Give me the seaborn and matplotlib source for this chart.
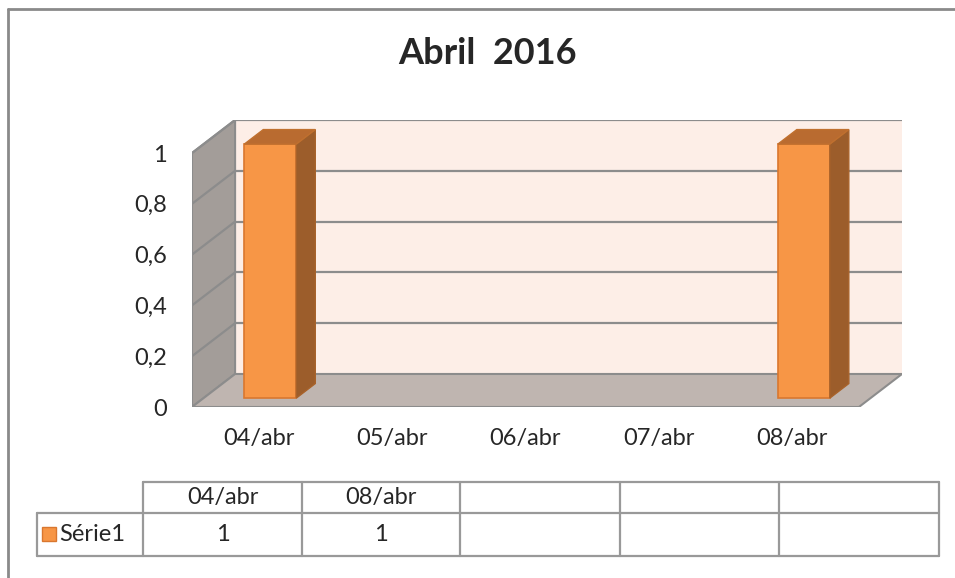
import numpy as np
import pandas as pd
import matplotlib
matplotlib.use('Agg')
import matplotlib.pyplot as plt
from matplotlib.patches import Polygon, Rectangle
import seaborn as sns

# dados do gráfico
dias = ['04/abr', '05/abr', '06/abr', '07/abr', '08/abr']
serie_dias = ['04/abr', '08/abr']
serie_valores = [1, 1]
serie_nome = 'Série1'
y_ticks = [0, 0.2, 0.4, 0.6, 0.8, 1]
titulo = 'Abril  2016'

sns.set_style('white')
plt.rcParams['font.family'] = ['Lato', 'DejaVu Sans']

W, H = 955, 578
fig = plt.figure(figsize=(W / 100, H / 100), dpi=100)

# eixo principal (perspectiva obliqua tipo Excel 3D)
DX, DY = 0.323, 0.130   # profundidade da parede em unidades de dados
d0, dd = 0.27, 0.44     # posicao/profundidade das barras
ax = fig.add_axes([192 / W, (H - 407) / H, (902 - 192) / W, (407 - 120) / H])

df = pd.DataFrame({'dia': serie_dias, 'valor': serie_valores})
sns.barplot(data=df, x='dia', y='valor', order=dias, width=0.39, color='#F79646',
            saturation=1, edgecolor='#D9772F', linewidth=1.2, ax=ax, zorder=3)

x0, x1 = -0.5, len(dias) - 0.5
ymax = max(y_ticks)
grid_c = '#8C8C8C'

# paredes e chão
ax.add_patch(Polygon([(x0 + DX, DY), (x1 + DX, DY), (x1 + DX, ymax + DY), (x0 + DX, ymax + DY)],
                     closed=True, facecolor='#FDEEE7', edgecolor='none', zorder=0))
ax.add_patch(Polygon([(x0, 0), (x0 + DX, DY), (x0 + DX, ymax + DY), (x0, ymax)],
                     closed=True, facecolor='#A39D99', edgecolor=grid_c, lw=1.5, zorder=0.5))
ax.add_patch(Polygon([(x0, 0), (x1, 0), (x1 + DX, DY), (x0 + DX, DY)],
                     closed=True, facecolor='#BFB5B0', edgecolor=grid_c, lw=1.5, zorder=0.5))
for v in y_ticks[1:]:
    ax.plot([x0 + DX, x1 + DX], [v + DY, v + DY], color=grid_c, lw=1.6, zorder=0.6)
    ax.plot([x0, x0 + DX], [v, v + DY], color=grid_c, lw=1.6, zorder=0.6)

# faces laterais e topo das barras
for p in list(ax.patches):
    if not isinstance(p, Rectangle) or p.get_facecolor()[:3] == (1, 1, 1):
        continue
    if p.get_height() <= 0 or p.get_width() > 1:
        continue
    p.set_x(p.get_x() + d0 * DX)
    p.set_y(d0 * DY)
    bx0 = p.get_x()
    bx1 = bx0 + p.get_width()
    by0 = p.get_y()
    by1 = by0 + p.get_height()
    ax.add_patch(Polygon([(bx1, by0), (bx1 + dd * DX, by0 + dd * DY), (bx1 + dd * DX, by1 + dd * DY), (bx1, by1)],
                         closed=True, facecolor='#9C5D2B', edgecolor='#A8622A', lw=1, zorder=3))
    ax.add_patch(Polygon([(bx0, by1), (bx1, by1), (bx1 + dd * DX, by1 + dd * DY), (bx0 + dd * DX, by1 + dd * DY)],
                         closed=True, facecolor='#B96B30', edgecolor='#C0702F', lw=1, zorder=3))

ax.set_xlim(x0, x1 + DX)
ax.set_ylim(0, ymax + DY)
ax.set_xticks(range(len(dias)))
ax.set_xticklabels(dias)
ax.set_yticks(y_ticks)
ax.set_yticklabels([('%g' % v).replace('.', ',') for v in y_ticks])
ax.tick_params(axis='x', length=0, pad=15, labelsize=17)
ax.tick_params(axis='y', length=0, pad=18, labelsize=17)
ax.set_xlabel('')
ax.set_ylabel('')
for s in ax.spines.values():
    s.set_visible(False)
ax.patch.set_alpha(0)

fig.text(488 / W, 1 - 53 / H, titulo, ha='center', va='center', fontsize=26, fontweight='bold')

# tabela de dados
tax = fig.add_axes([0, 0, 1, 1], zorder=-1)
tax.set_xlim(0, W)
tax.set_ylim(H, 0)
tax.axis('off')
tc = '#999999'
cols = [143, 302, 460, 620, 779, 939]
rows = [482, 513, 556]
tax.plot([0 + 8, W], [9, 9], color='#8A8A8A', lw=2)
tax.plot([8, 8], [9, H], color='#8A8A8A', lw=2)
tax.plot([cols[0], cols[-1]], [rows[0], rows[0]], color=tc, lw=1.6)
tax.plot([37, cols[-1]], [rows[1], rows[1]], color=tc, lw=1.6)
tax.plot([37, cols[-1]], [rows[2], rows[2]], color=tc, lw=1.6)
tax.plot([37, 37], [rows[1], rows[2]], color=tc, lw=1.6)
for c in cols:
    tax.plot([c, c], [rows[0], rows[2]], color=tc, lw=1.6)

for i in range(len(cols) - 1):
    cx = (cols[i] + cols[i + 1]) / 2
    if i < len(serie_dias):
        tax.text(cx, (rows[0] + rows[1]) / 2, serie_dias[i], ha='center', va='center', fontsize=17)
        tax.text(cx, (rows[1] + rows[2]) / 2, '%g' % serie_valores[i], ha='center', va='center', fontsize=17)

tax.add_patch(Rectangle((42, 527), 14, 14, facecolor='#F79646', edgecolor='#D9772F', lw=1))
tax.text(59, (rows[1] + rows[2]) / 2, serie_nome, ha='left', va='center', fontsize=17)

fig.savefig('out.png', dpi=100)
